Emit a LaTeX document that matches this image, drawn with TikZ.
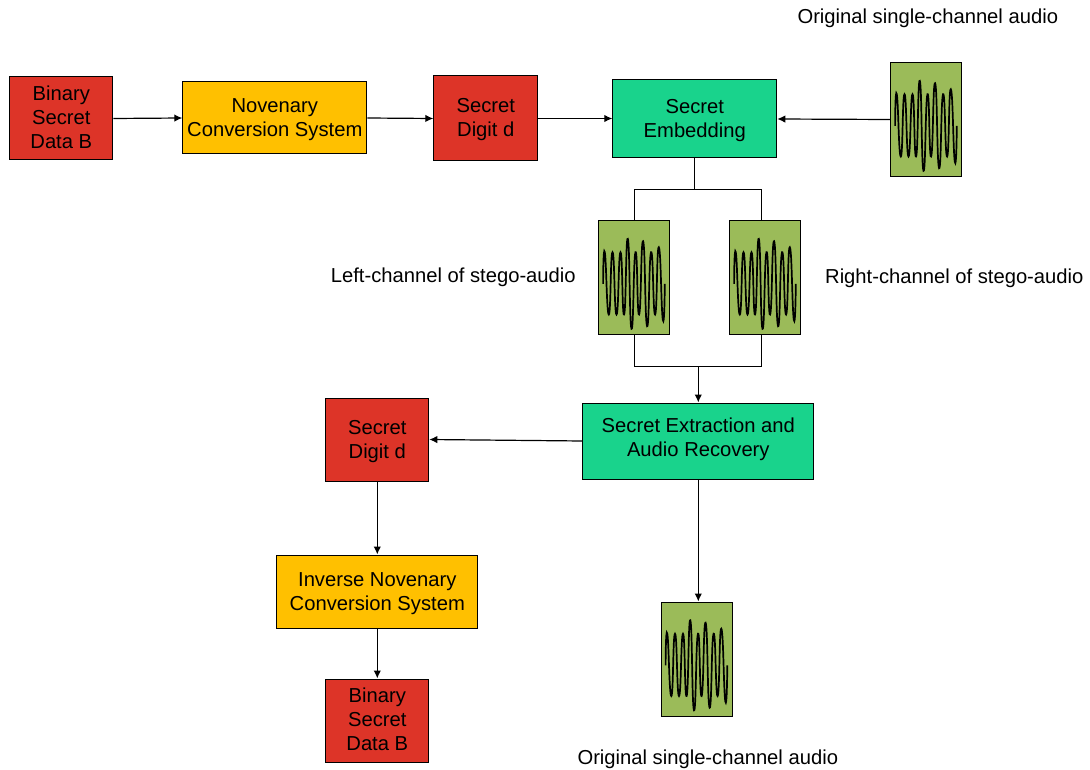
\documentclass[tikz,border=0pt]{standalone}
\usepackage{fontspec}
\setmainfont{Liberation Sans}
\usetikzlibrary{arrows.meta}
\definecolor{boxred}{HTML}{DD3428}
\definecolor{boxyellow}{HTML}{FFC000}
\definecolor{boxgreen}{HTML}{19D38C}
\definecolor{boxolive}{HTML}{9BBB59}
\tikzset{
  block/.style={draw=black, line width=1pt, align=center, inner sep=0pt,
    font=\fontsize{20.2}{24}\selectfont, text depth=2pt},
  redblock/.style={block, fill=boxred},
  yellowblock/.style={block, fill=boxyellow},
  greenblock/.style={block, fill=boxgreen},
  audioblock/.style={block, fill=boxolive, minimum width=71pt, minimum height=114pt},
  caption/.style={inner sep=0pt, font=\fontsize{20.2}{24}\selectfont},
  link/.style={line width=1.2pt},
  arrowlink/.style={link, -{Latex[length=8pt,width=7.5pt]}},
  wave/.pic={
    \draw[line width=1.7pt, smooth, tension=1] plot coordinates {
      (-31.2,6.3) (-29.5,-25.3) (-25.5,37) (-21.8,-25.3) (-17.8,37) (-13.8,-25.3)
      (-10.2,37) (-6.5,-38.7) (-2.8,51.3) (1.2,-25.3) (4.8,37) (8.8,-36.3)
      (12.8,48.7) (16.8,-25.3) (20.8,37) (24.5,-30.3) (28.5,42.3) (30.5,6.3)};
  }
}
\begin{document}
\begin{tikzpicture}[x=1pt,y=-1pt]
    \useasboundingbox (0.2,0) rectangle (1090.2,770);

    % Embedding side
    \node[redblock, text depth=3pt, minimum width=103pt, minimum height=83pt] (binary) at (61.5,118.5) {Binary\\Secret\\Data B};
    \node[yellowblock, text depth=1pt, minimum width=184pt, minimum height=72pt] (novenary) at (275,118) {Novenary\\Conversion System};
    \node[redblock, minimum width=104pt, minimum height=85pt] (digit) at (486,118.5) {Secret\\Digit d};
    \node[greenblock, text depth=1pt, minimum width=164pt, minimum height=78pt] (embed) at (695,119) {Secret\\Embedding};
    \node[audioblock] (original) at (926.5,119.5) {};
    \pic at (original.center) {wave};
    \node[caption] (originallabel) at (928,18.5) {Original single-channel audio};

    % Stego channels
    \node[audioblock] (left) at (634.5,277.5) {};
    \pic at (left.center) {wave};
    \node[audioblock] (right) at (765.5,277.5) {};
    \pic at (right.center) {wave};
    \node[caption] (leftlabel) at (453.5,277) {Left-channel of stego-audio};
    \node[caption] (rightlabel) at (954.5,278) {Right-channel of stego-audio};

    % Extraction side
    \node[greenblock, text depth=7pt, minimum width=231pt, minimum height=76pt] (extract) at (698.5,441) {Secret Extraction and\\Audio Recovery};
    \node[redblock, text depth=-1pt, minimum width=103pt, minimum height=83pt] (digitout) at (377.5,439.5) {Secret\\Digit d};
    \node[yellowblock, text depth=-1pt, minimum width=201pt, minimum height=73pt] (inverse) at (377.5,591.5) {Inverse Novenary\\Conversion System};
    \node[redblock, text depth=3pt, minimum width=103pt, minimum height=83pt] (binaryout) at (377.5,720.5) {Binary\\Secret\\Data B};
    \node[audioblock] (recovered) at (697,659) {};
    \pic at (recovered.center) {wave};
    \node[caption] (recoveredlabel) at (708,759) {Original single-channel audio};

    % Junctions
    \coordinate (split) at (695,189.5);
    \coordinate (splitl) at (634.5,189.5);
    \coordinate (splitr) at (762,189.5);
    \coordinate (rtop) at (762,221);
    \coordinate (rbot) at (762,334);
    \coordinate (mergel) at (634.5,366.5);
    \coordinate (merger) at (762,366.5);
    \coordinate (merge) at (698.5,366.5);

    % Connectors
    \draw[arrowlink] (binary.east) -- (novenary.west);
    \draw[arrowlink] (novenary.east) -- (digit.west);
    \draw[arrowlink] (digit.east) -- (digit.east -| embed.west);
    \draw[arrowlink] (original.west) -- (embed.east);
    \draw[link] (embed.south) -- (split);
    \draw[link] (left.north) -- (splitl) -- (splitr) -- (rtop);
    \draw[link] (left.south) -- (mergel) -- (merger) -- (rbot);
    \draw[arrowlink] (merge) -- (extract.north);
    \draw[arrowlink] (extract.west) -- (digitout.east);
    \draw[arrowlink] (digitout.south) -- (inverse.north);
    \draw[arrowlink] (inverse.south) -- (binaryout.north);
    \draw[arrowlink] (extract.south) -- (extract.south |- recovered.north);
\end{tikzpicture}
\end{document}
